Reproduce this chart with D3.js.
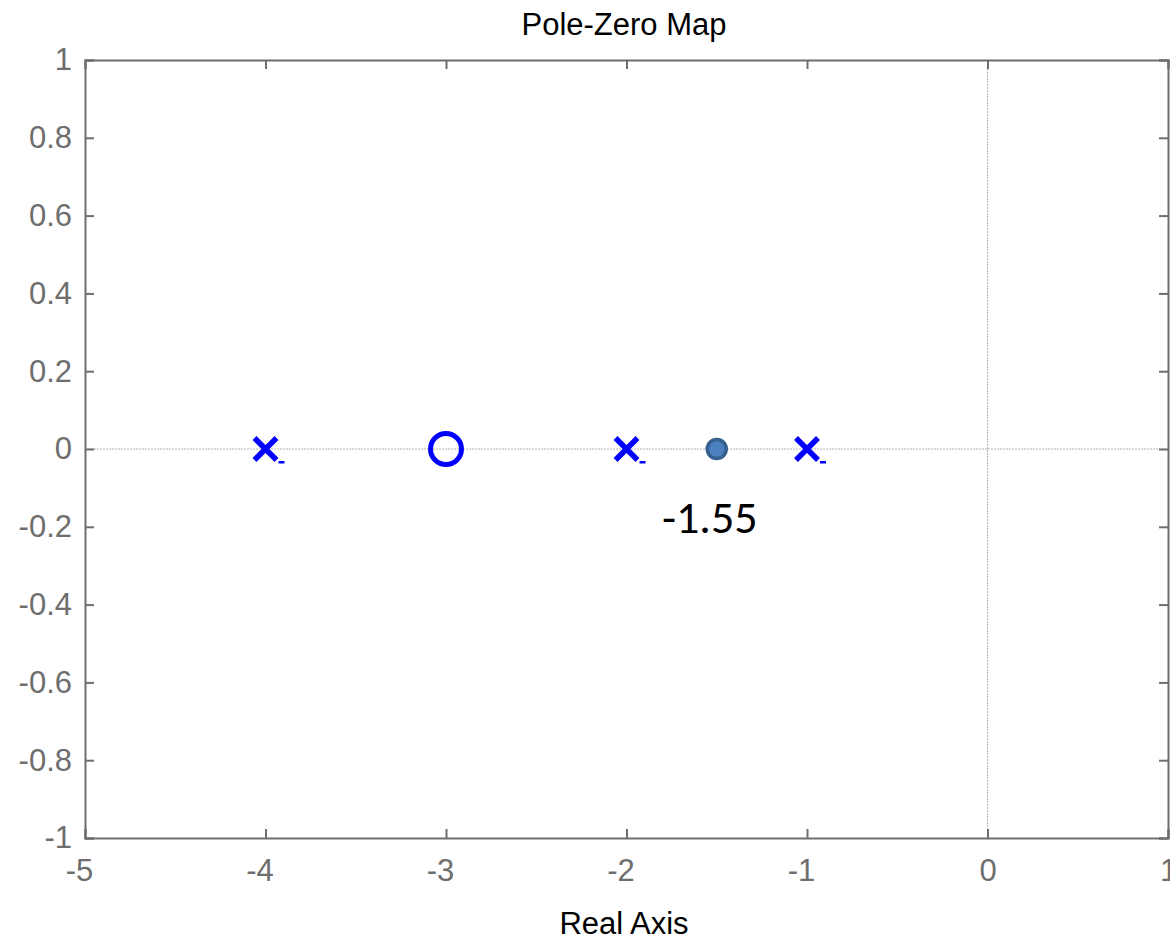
<!DOCTYPE html>
<html lang="en">
<head>
  <meta charset="UTF-8">
  <title>Pole-Zero Map</title>
  <style>
    body { margin: 0; background: #fff; }
    text { font-family: "Liberation Sans", Arial, sans-serif; }
  </style>
</head>
<body>
  <svg width=1170 height=940 id="viz"></svg>

  <script src="https://cdn.jsdelivr.net/npm/d3@7/dist/d3.min.js"></script>
  <script>
/* global d3 */

// data
let poles = [-4, -2, -1];
let zeros = [-3];
let breakaway = [-1.5];
let breakawayLabel = ["-1.55"];
let xTicks = [-5, -4, -3, -2, -1, 0, 1];
let yTicks = [1, 0.8, 0.6, 0.4, 0.2, 0, -0.2, -0.4, -0.6, -0.8, -1];

let svg = d3.select("#viz"),
  margin = {top: 60, right: 2, bottom: 102, left: 85},
  width = +svg.attr("width") - margin.left - margin.right,
  height = +svg.attr("height") - margin.top - margin.bottom,
  g = svg.append("g").attr("transform", "translate(" + margin.left + "," + margin.top + ")");

let x = d3.scaleLinear().domain([-5, 1]).range([0, width]);
let y = d3.scaleLinear().domain([-1, 1]).range([height, 0]);

let grey = "#6e6e6e";

// zero lines
g.append("line")
  .attr("x1", 0).attr("x2", width)
  .attr("y1", y(0)).attr("y2", y(0))
  .attr("stroke", "#b4b4b4").attr("stroke-width", 1).attr("stroke-dasharray", "2,1");
g.append("line")
  .attr("x1", x(0)).attr("x2", x(0))
  .attr("y1", 0).attr("y2", height)
  .attr("stroke", "#b4b4b4").attr("stroke-width", 1).attr("stroke-dasharray", "2,1");

// axes (ticks point inward), plain hyphen for negatives
let fmt = d => String(d);
g.append("g")
  .attr("class", "xax")
  .attr("transform", "translate(0," + height + ")")
  .call(d3.axisBottom(x).tickValues(xTicks).tickSize(-9).tickPadding(21).tickFormat(fmt));
g.append("g")
  .call(d3.axisTop(x).tickValues(xTicks).tickSize(-9).tickFormat(""));
g.append("g")
  .call(d3.axisLeft(y).tickValues(yTicks).tickSize(-9).tickPadding(13).tickFormat(fmt));
g.append("g")
  .attr("transform", "translate(" + width + ",0)")
  .call(d3.axisRight(y).tickValues(yTicks).tickSize(-9).tickFormat(""));

g.selectAll(".domain").attr("stroke", grey).attr("stroke-width", 2);
g.selectAll(".tick line").attr("stroke", grey).attr("stroke-width", 2);
g.selectAll(".tick text")
  .attr("fill", grey)
  .style("font-size", "31px")
  .style("font-family", "'Liberation Sans', Arial, sans-serif");
g.selectAll(".xax .tick text").attr("dx", d => d < 0 ? -6 : 0);

// poles (x marks)
let s = 11;
g.selectAll(".pole")
  .data(poles)
  .enter()
  .append("path")
  .attr("class", "pole")
  .attr("d", d => {
    let cx = x(d), cy = y(0);
    return "M" + (cx - s) + "," + (cy - s) + "L" + (cx + s) + "," + (cy + s) +
      "M" + (cx - s) + "," + (cy + s) + "L" + (cx + s) + "," + (cy - s);
  })
  .attr("stroke", "#0000ff")
  .attr("stroke-width", 5.5)
  .attr("fill", "none");

// little dash trailing each x, as in the source render
g.selectAll(".poledash")
  .data(poles)
  .enter()
  .append("rect")
  .attr("class", "poledash")
  .attr("x", d => x(d) + 13)
  .attr("y", y(0) + 12)
  .attr("width", 6)
  .attr("height", 2.5)
  .attr("fill", "#0000ff");

// zeros (o marks)
g.selectAll(".zero")
  .data(zeros)
  .enter()
  .append("circle")
  .attr("class", "zero")
  .attr("cx", d => x(d))
  .attr("cy", y(0))
  .attr("r", 15.5)
  .attr("stroke", "#0000ff")
  .attr("stroke-width", 5)
  .attr("fill", "none");

// breakaway point
g.selectAll(".bp")
  .data(breakaway)
  .enter()
  .append("circle")
  .attr("class", "bp")
  .attr("cx", d => x(d))
  .attr("cy", y(0))
  .attr("r", 9.5)
  .attr("fill", "#4a80c0")
  .attr("stroke", "#35608f")
  .attr("stroke-width", 3.5);

g.selectAll(".bplabel")
  .data(breakaway)
  .enter()
  .append("text")
  .attr("class", "bplabel")
  .attr("x", d => x(d) - 7)
  .attr("y", y(-0.2) + 6)
  .attr("text-anchor", "middle")
  .style("font-family", "Carlito, 'Open Sans', 'Noto Sans', sans-serif")
  .style("font-size", "46px")
  .attr("fill", "#000")
  .text((d, i) => breakawayLabel[i]);

// title and label
svg.append("text")
  .attr("x", 624)
  .attr("y", 35)
  .attr("text-anchor", "middle")
  .style("font-size", "31px")
  .attr("fill", "#000")
  .text("Pole-Zero Map");

svg.append("text")
  .attr("x", 624)
  .attr("y", 934)
  .attr("text-anchor", "middle")
  .style("font-size", "31px")
  .attr("fill", "#000")
  .text("Real Axis");
  </script>
</body>
</html>
